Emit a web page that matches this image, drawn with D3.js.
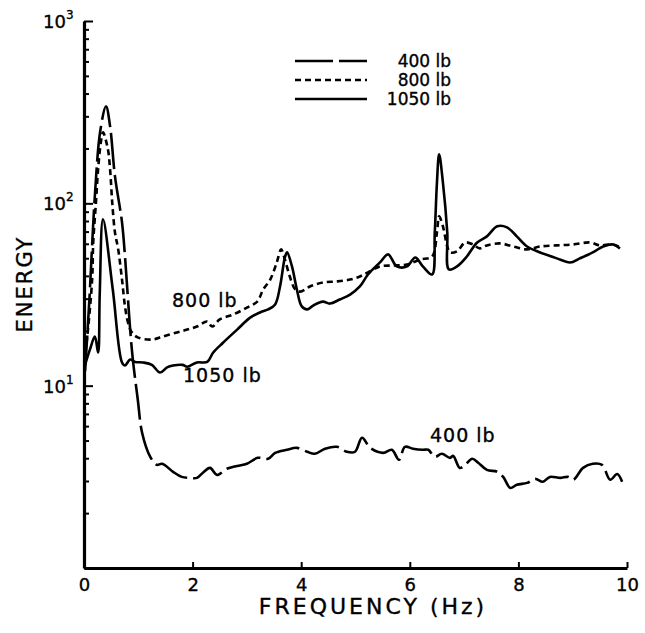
<!DOCTYPE html>
<html>
<head>
<meta charset="utf-8">
<script src="https://cdn.jsdelivr.net/npm/d3@7"></script>
<style>
  body { margin: 0; background: #fff; }
  svg text { font-family: "DejaVu Sans", "Liberation Sans", sans-serif; fill: #000; stroke: #000; stroke-width: 0.35; }
</style>
</head>
<body>
<div id="chart"></div>
<script>
// frequency (Hz) / energy readings for each load
const load400 = [
  [0.02, 12], [0.1, 30], [0.2, 110], [0.3, 250], [0.405, 341], [0.48, 265], [0.57, 141],
  [0.70, 78.7], [0.755, 51.1], [0.85, 20.3], [0.90, 13.9], [0.99, 8.4], [1.07, 5.52],
  [1.22, 4.07], [1.34, 3.68], [1.44, 3.73], [1.64, 3.37], [1.80, 3.16], [1.95, 3.12],
  [2.08, 3.12], [2.19, 3.33], [2.32, 3.54], [2.45, 3.24], [2.63, 3.50], [2.82, 3.63],
  [3.00, 3.73], [3.20, 4.02], [3.39, 3.97], [3.52, 4.28], [3.74, 4.45], [3.92, 4.56],
  [4.11, 4.34], [4.25, 4.23], [4.44, 4.51], [4.66, 4.62], [4.84, 4.34], [4.99, 4.34],
  [5.12, 5.18], [5.27, 4.56], [5.51, 4.28], [5.67, 4.45], [5.80, 3.92], [5.91, 4.62],
  [6.06, 4.51], [6.24, 4.45], [6.34, 4.45], [6.46, 4.07], [6.59, 4.23], [6.74, 4.02],
  [6.80, 4.12], [6.92, 3.54], [7.02, 3.68], [7.15, 3.97], [7.26, 3.78], [7.42, 3.45],
  [7.61, 3.37], [7.72, 3.16], [7.85, 2.75], [7.97, 2.86], [8.16, 2.93], [8.31, 3.08],
  [8.45, 2.97], [8.58, 3.16], [8.77, 3.12], [8.91, 3.16], [9.01, 3.05], [9.19, 3.54],
  [9.37, 3.73], [9.54, 3.68], [9.69, 3.05], [9.82, 3.28], [9.91, 2.97]
];

const load800 = [
  [0.02, 15], [0.06, 18.6], [0.15, 38.2], [0.17, 61], [0.22, 101], [0.26, 154], [0.31, 216],
  [0.35, 245], [0.44, 198], [0.48, 154], [0.52, 101], [0.57, 69.3], [0.63, 55.9],
  [0.70, 38.2], [0.755, 27.2], [0.81, 22.2], [0.88, 19.6], [0.99, 18.4], [1.25, 17.9],
  [1.45, 18.6], [1.71, 19.6], [1.90, 20.3], [2.08, 21.1], [2.27, 22.5], [2.36, 21.1],
  [2.50, 23.1], [2.74, 24.5], [3.00, 26.8], [3.19, 28.9], [3.30, 33.7], [3.43, 38.2],
  [3.55, 47.4], [3.63, 55.9], [3.70, 49.2], [3.79, 39.7], [3.89, 33.7], [3.98, 32.8],
  [4.16, 35.0], [4.40, 36.8], [4.66, 37.3], [4.90, 38.2], [5.08, 39.7], [5.23, 41.8],
  [5.45, 45.1], [5.69, 45.6], [5.95, 46.2], [6.19, 49.2], [6.41, 51.1], [6.50, 69.3],
  [6.54, 84.8], [6.61, 74.8], [6.69, 58.0], [6.74, 53.8], [6.87, 54.6], [7.02, 61],
  [7.16, 59.5], [7.29, 56.6], [7.42, 58.8], [7.66, 60.3], [7.90, 58.0], [8.16, 55.9],
  [8.40, 58.0], [8.71, 58.8], [9.01, 59.5], [9.32, 61], [9.50, 58.8], [9.74, 59.5],
  [9.87, 57.3]
];

const load1050 = [
  [0.02, 13], [0.11, 15.8], [0.20, 18.6], [0.26, 15.2], [0.29, 32], [0.35, 81.7],
  [0.53, 33.7], [0.70, 13.4], [0.755, 12.9], [0.85, 13.9], [0.94, 13.5], [1.09, 13.4],
  [1.25, 13.0], [1.40, 11.8], [1.53, 12.6], [1.64, 12.9], [1.82, 13.0], [1.90, 12.7],
  [2.08, 13.4], [2.27, 13.5], [2.38, 15.2], [2.56, 17.2], [2.82, 20.3], [3.06, 23.6],
  [3.24, 25.2], [3.39, 26.2], [3.52, 27.9], [3.61, 35.0], [3.70, 50.5], [3.74, 53.8],
  [3.83, 45.1], [3.92, 33.7], [4.01, 27.2], [4.11, 26.2], [4.22, 27.5], [4.40, 28.9],
  [4.53, 28.2], [4.71, 29.7], [4.90, 31.6], [5.08, 35.0], [5.23, 40.7], [5.45, 47.4],
  [5.60, 52.5], [5.76, 45.1], [5.95, 45.1], [6.10, 50.5], [6.24, 45.1], [6.41, 40.7],
  [6.46, 69.3], [6.50, 130], [6.54, 186], [6.61, 130], [6.69, 69.3], [6.72, 43.4],
  [6.87, 45.1], [7.05, 51.1], [7.24, 61], [7.42, 65.9], [7.61, 74.8], [7.79, 73.8],
  [7.97, 65.9], [8.16, 58.0], [8.40, 53.8], [8.71, 49.9], [8.95, 47.4], [9.13, 49.9],
  [9.37, 53.8], [9.56, 58.0], [9.74, 59.5], [9.87, 56.6]
];

const xTicks = [0, 2, 4, 6, 8, 10];
const yDecades = [1, 10, 100, 1000];
const yDecadeLabels = ["", "1", "2", "3"];
const seriesNames = ["400 lb", "800 lb", "1050 lb"];

const width = 645, height = 633;

const svg = d3.select("#chart").append("svg")
  .attr("width", width)
  .attr("height", height);

svg.append("rect").attr("width", width).attr("height", height).attr("fill", "#fff");

const x = d3.scaleLinear().domain([0, 10]).range([84, 627]);
const y = d3.scaleLog().domain([1, 1000]).range([568, 21]);

// Minor log ticks
const minor = [];
[1, 10, 100].forEach((d) => {
  for (let k = 2; k <= 9; k++) minor.push(d * k);
});

// Axes
const yAxis = d3.axisLeft(y)
  .tickValues(yDecades.concat(minor))
  .tickSizeInner(-9)
  .tickSizeOuter(0)
  .tickFormat("");

const yg = svg.append("g")
  .attr("transform", `translate(${x(0)},0)`)
  .call(yAxis);

yg.selectAll(".tick line")
  .attr("x2", (d) => (yDecades.includes(d) ? 9 : 5))
  .attr("stroke-width", 2);
yg.select(".domain").attr("stroke-width", 3.2);

const xAxis = d3.axisBottom(x)
  .tickValues(xTicks)
  .tickSizeInner(-6)
  .tickSizeOuter(0)
  .tickPadding(10)
  .tickFormat(d3.format("d"));

const xg = svg.append("g")
  .attr("transform", `translate(0,${y(1)})`)
  .call(xAxis);

xg.select(".domain").attr("stroke-width", 3.2);
xg.selectAll(".tick line").attr("stroke-width", 2);
xg.selectAll(".tick text")
  .attr("font-size", 18)
  .attr("font-family", "DejaVu Sans, Liberation Sans, sans-serif");

// Y decade labels with superscripts
yDecades.forEach((d, i) => {
  if (!yDecadeLabels[i]) return;
  const t = svg.append("text")
    .attr("x", 43)
    .attr("y", y(d) + 7)
    .attr("font-size", 18);
  t.append("tspan").text("10");
  t.append("tspan")
    .attr("dy", -9)
    .attr("font-size", 12)
    .text(yDecadeLabels[i]);
});

// Axis titles
svg.append("text")
  .attr("transform", `translate(32,${284}) rotate(-90)`)
  .attr("text-anchor", "middle")
  .attr("font-size", 21)
  .attr("letter-spacing", 2)
  .text("ENERGY");

svg.append("text")
  .attr("x", 373)
  .attr("y", 614)
  .attr("text-anchor", "middle")
  .attr("font-size", 22)
  .attr("letter-spacing", 3)
  .text("FREQUENCY (Hz)");

// Curves
const line = d3.line()
  .x((d) => x(d[0]))
  .y((d) => y(d[1]))
  .curve(d3.curveCatmullRom.alpha(0.5));

const styles = [
  { data: load400, dash: "36,6" },
  { data: load800, dash: "6,4" },
  { data: load1050, dash: null }
];

styles.forEach((s) => {
  svg.append("path")
    .datum(s.data)
    .attr("d", line)
    .attr("fill", "none")
    .attr("stroke", "#000")
    .attr("stroke-width", 2.6)
    .attr("stroke-linejoin", "round")
    .attr("stroke-dasharray", s.dash);
});

// Curve labels
const labelStyle = (sel) => sel.attr("font-size", 19).attr("letter-spacing", 1);
svg.append("text").attr("x", 172).attr("y", 307).text("800 lb").call(labelStyle);
svg.append("text").attr("x", 183).attr("y", 382).text("1050 lb").call(labelStyle);
svg.append("text").attr("x", 430).attr("y", 442).text("400 lb").call(labelStyle);

// Legend
const legendY = [61, 80, 99];
styles.forEach((s, i) => {
  svg.append("line")
    .attr("x1", 295).attr("x2", 367)
    .attr("y1", legendY[i]).attr("y2", legendY[i])
    .attr("stroke", "#000")
    .attr("stroke-width", 2.4)
    .attr("stroke-dasharray", i === 0 ? "38,6" : s.dash);
  svg.append("text")
    .attr("x", 451)
    .attr("y", legendY[i] + 6)
    .attr("text-anchor", "end")
    .attr("font-size", 17)
    .text(seriesNames[i]);
});
</script>
</body>
</html>
